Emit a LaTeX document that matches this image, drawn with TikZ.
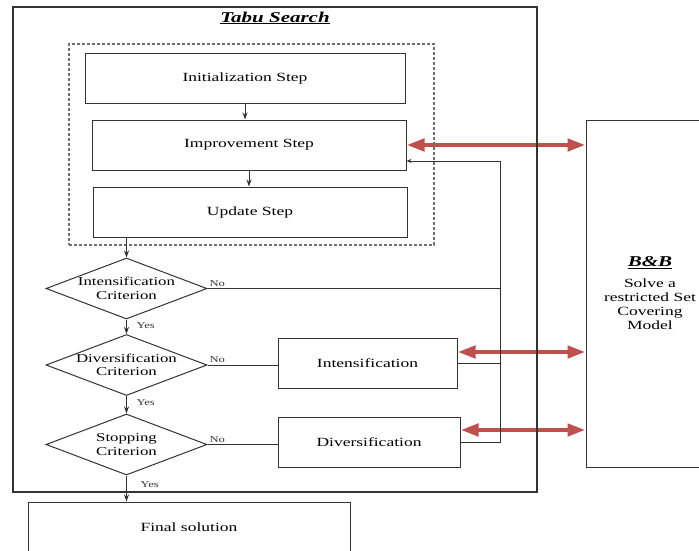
\documentclass[tikz,border=0pt]{standalone}
\usepackage{fontspec}
\setmainfont{Liberation Serif}[FakeStretch=1.4]
\usetikzlibrary{arrows.meta, positioning, shapes.geometric, calc, backgrounds}
\definecolor{bbRed}{HTML}{C0504D}
\definecolor{lineDark}{HTML}{333333}
\definecolor{dotGray}{HTML}{6F6F6F}
\tikzset{
  arrowK/.style={-{Stealth[length=7pt,width=5pt]}, lineDark, line width=1pt},
  arrowS/.style={-{Stealth[length=5pt,width=4pt]}, lineDark, line width=1pt},
  arrowRed/.style={{Triangle[length=18pt,width=12pt]}-{Triangle[length=18pt,width=12pt]},
                   bbRed, line width=4.5pt},
  lineK/.style={lineDark, line width=1pt},
  stepBox/.style={rectangle, draw=lineDark, line width=1pt, fill=white, align=center,
                  font=\fontsize{12.5}{14}\selectfont, minimum height=50pt},
  critDiam/.style={diamond, draw=lineDark, line width=1pt, aspect=2.64, inner sep=-2pt,
                   minimum width=161pt, minimum height=61pt, align=center,
                   font=\fontsize{12}{13.5}\selectfont},
  lblSmall/.style={font=\fontsize{9}{10}\selectfont, inner sep=1.5pt},
}

\begin{document}
\begin{tikzpicture}[x=1pt, y=-1pt, font=\fontsize{12.5}{14}\selectfont]
    \useasboundingbox (0,0) rectangle (699,550);
    % Tabu Search frame
    \node[draw=lineDark, line width=1.3pt, minimum width=524pt, minimum height=485pt]
      (ts) at (275,249.5) {};
    \node[font=\fontsize{15}{17}\selectfont\bfseries\itshape] (tsTitle) at (275,18)
      {\underline{Tabu Search}};
    \node[draw=dotGray, dash pattern=on 3pt off 2pt, line width=1.1pt,
          minimum width=365pt, minimum height=201pt] (loop) at (251.5,144.5) {};
    \node[stepBox, minimum width=320pt] (init) at (245,78) {Initialization Step};
    \node[stepBox, minimum width=314pt] (impr) at (249,145) {Improvement Step};
    \node[stepBox, minimum width=314pt] (upd) at (250,212) {Update Step};
    \node[critDiam] (intCrit) at (126.5,288.5) {Intensification\\Criterion};
    \node[critDiam] (divCrit) at (126.5,365) {Diversification\\Criterion};
    \node[critDiam] (stopCrit) at (126.5,444.5) {Stopping\\Criterion};
    \node[stepBox, minimum width=179pt] (intens) at (367.5,363) {Intensification};
    \node[stepBox, minimum width=182pt] (divers) at (369,442) {Diversification};
    \node[stepBox, minimum width=322pt] (final) at (189,527) {Final solution};
    % B&B
    \node[stepBox, minimum width=128pt, minimum height=347pt] (bb) at (650,293.5)
      {{\fontsize{15}{17}\selectfont\bfseries\itshape\underline{B\&B}}\\[7pt]
       Solve a\\restricted Set\\Covering\\Model};
    % flow
    \draw[arrowK] (init.south) -- (init.south |- impr.north);
    \draw[arrowK] (impr.south) -- (impr.south |- upd.north);
    \draw[arrowK] (upd.south -| intCrit.north) -- (intCrit.north);
    \draw[arrowK] (intCrit.south) -- node[lblSmall, right, xshift=8pt, pos=0.4] {Yes} (divCrit.north);
    \draw[arrowK] (divCrit.south) -- node[lblSmall, right, xshift=8pt, pos=0.4] {Yes} (stopCrit.north);
    \draw[arrowK] (stopCrit.south) -- node[lblSmall, right, xshift=12pt, pos=0.35] {Yes}
      (stopCrit.south |- final.north);
    % back to improvement
    \coordinate (back) at ($(divers.east)+(40,0)$);
    \draw[lineK] (intCrit.east) -- node[lblSmall, pos=0, above right] {No} (intCrit.east -| back);
    \draw[lineK] (divCrit.east) -- node[lblSmall, pos=0, above right] {No} (divCrit.east -| intens.west);
    \draw[lineK] (stopCrit.east) -- node[lblSmall, pos=0, above right] {No} (stopCrit.east -| divers.west);
    \draw[lineK] (intens.east) -- (intens.east -| back);
    \draw[arrowS] (divers.east) -- (back) |- ([yshift=-16pt]impr.east);
    % links to B&B
    \begin{scope}[on background layer]
      \draw[arrowRed] (impr.east) -- (impr.east -| bb.west);
      \draw[arrowRed] ([yshift=11pt]intens.east) -- ([yshift=11pt]intens.east -| bb.west);
      \draw[arrowRed] ([yshift=12pt]divers.east) -- ([yshift=12pt]divers.east -| bb.west);
    \end{scope}
\end{tikzpicture}
\end{document}
